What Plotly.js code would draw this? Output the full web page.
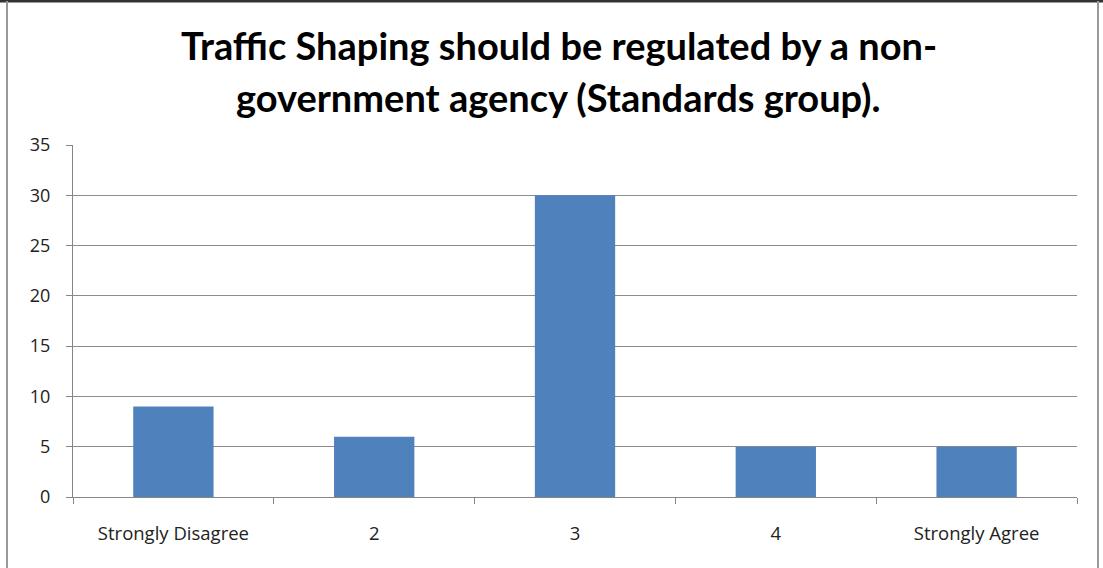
<!DOCTYPE html>
<html><head><meta charset="utf-8">
<script src="https://cdn.plot.ly/plotly-3.0.1.min.js"></script>
<style>body{margin:0;background:#fff}#c{width:1103px;height:568px}</style>
</head><body><div id="c"></div>
<script>
const categories = ["Strongly Disagree", "2", "3", "4", "Strongly Agree"];
const counts = [9, 6, 30, 5, 5];
const titleLines = ["Traffic Shaping should be regulated by a non-", "government agency (Standards group)."];
const yTicks = [0, 5, 10, 15, 20, 25, 30, 35];

const trace = {
  type: "bar", x: categories, y: counts,
  marker: {color: "#4f81bd", line: {width: 0}},
  hoverinfo: "x+y"
};
const font = "Lato, 'Open Sans', sans-serif";
const tickFont = "'Open Sans', sans-serif";
const layout = {
  width: 1103, height: 568,
  margin: {l: 73, r: 26, t: 145, b: 71},
  paper_bgcolor: "#fff", plot_bgcolor: "#fff",
  bargap: 0.6,
  showlegend: false,
  font: {family: tickFont, size: 18, color: "#222"},
  xaxis: {
    type: "category", tickson: "boundaries", ticks: "outside", ticklen: 6, tickcolor: "#868686",
    showline: true, linecolor: "#868686", linewidth: 1, showgrid: false,
    tickfont: {family: tickFont, size: 18.5, color: "#222"}, ticklabelstandoff: 20
  },
  yaxis: {
    range: [0, 35], tickvals: yTicks, ticks: "outside", ticklen: 6, tickcolor: "#868686",
    showline: true, linecolor: "#868686", gridcolor: "#8c8c8c", gridwidth: 1,
    zeroline: false, tickfont: {family: tickFont, size: 18, color: "#222"}, ticklabelstandoff: 12
  },
  annotations: titleLines.map((t, i) => ({
    text: "<b>" + t + "</b>", xref: "paper", yref: "paper", x: 0.484,
    y: i === 0 ? 1 + (145 - 45) / 352 : 1 + (145 - 97) / 352,
    xanchor: "center", yanchor: "middle", showarrow: false,
    font: {family: font, size: 38, color: "#000"}
  })),
  shapes: [
    {type: "line", xref: "paper", yref: "paper", x0: -73/1004, x1: 1 + 26/1004, y0: 1 + 144/352, y1: 1 + 144/352, line: {color: "#333", width: 3}},
    {type: "line", xref: "paper", yref: "paper", x0: -66/1004, x1: -66/1004, y0: 1 + 144/352, y1: -71/352, line: {color: "#999", width: 2}},
    {type: "line", xref: "paper", yref: "paper", x0: 1 + 21/1004, x1: 1 + 21/1004, y0: 1 + 144/352, y1: -71/352, line: {color: "#999", width: 2}}
  ]
};
Plotly.newPlot("c", [trace], layout, {displayModeBar: false});
</script></body></html>
